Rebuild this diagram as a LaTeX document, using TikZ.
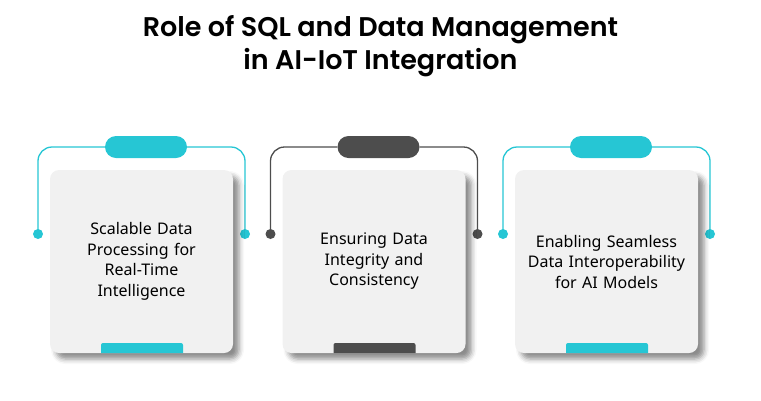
\documentclass[tikz,border=0pt]{standalone}
\usepackage{fontspec}
\setmainfont{Noto Sans}
\newfontfamily\titlefont{Poppins}[UprightFont=* SemiBold]
\usetikzlibrary{shadows.blur}
\definecolor{teal1}{HTML}{26C6D4}
\definecolor{dgray}{HTML}{4D4D4D}
\definecolor{cardbg}{HTML}{F1F1F1}
\tikzset{
 card/.style={fill=cardbg,rounded corners=9pt,minimum width=183pt,minimum height=183pt,
   blur shadow={shadow xshift=6pt,shadow yshift=-6pt,shadow blur radius=5pt,shadow opacity=45},
   align=center,font=\fontsize{16}{20.5}\selectfont,text width=160pt},
 pill/.style={rounded corners=11pt,minimum width=82pt,minimum height=22pt,inner sep=0pt},
 tab/.style={minimum width=82pt,minimum height=12pt,inner sep=0pt,rounded corners=2pt},
 bracket/.style={line width=1.3pt,rounded corners=14pt},
 dotn/.style={circle,inner sep=0pt,minimum size=10pt}
}
\begin{document}
\begin{tikzpicture}[x=1pt,y=-1pt]
\useasboundingbox (0,0) rectangle (761,400);
\node[font=\titlefont\fontsize{27}{33}\selectfont,align=center] (title) at (380.5,46) {Role of SQL and Data Management\\in AI-IoT Integration};
\foreach \i/\c/\t in {0/teal1/{Scalable Data\\Processing for\\Real-Time\\Intelligence},1/dgray/{Ensuring Data\\Integrity and\\Consistency},2/teal1/{Enabling Seamless\\Data Interoperability\\for AI Models}}{
 \begin{scope}[xshift=\i*232.5]
  \coordinate (l\i) at (38,234);
  \coordinate (r\i) at (245,234);
  \node[pill,fill=\c] (p\i) at (146,147) {};
  \draw[bracket,draw=\c] (l\i) |- (p\i.west);
  \draw[bracket,draw=\c] (r\i) |- (p\i.east);
  \node[dotn,fill=\c] (dl\i) at (l\i) {};
  \node[dotn,fill=\c] (dr\i) at (r\i) {};
  \node[card] (c\i) at (141.5,261.5) {\t};
  \begin{scope}
   \clip[rounded corners=9pt] (50,170) rectangle (233,353);
   \node[tab,fill=\c] (t\i) at (142,349) {};
  \end{scope}
 \end{scope}
}
\end{tikzpicture}
\end{document}
